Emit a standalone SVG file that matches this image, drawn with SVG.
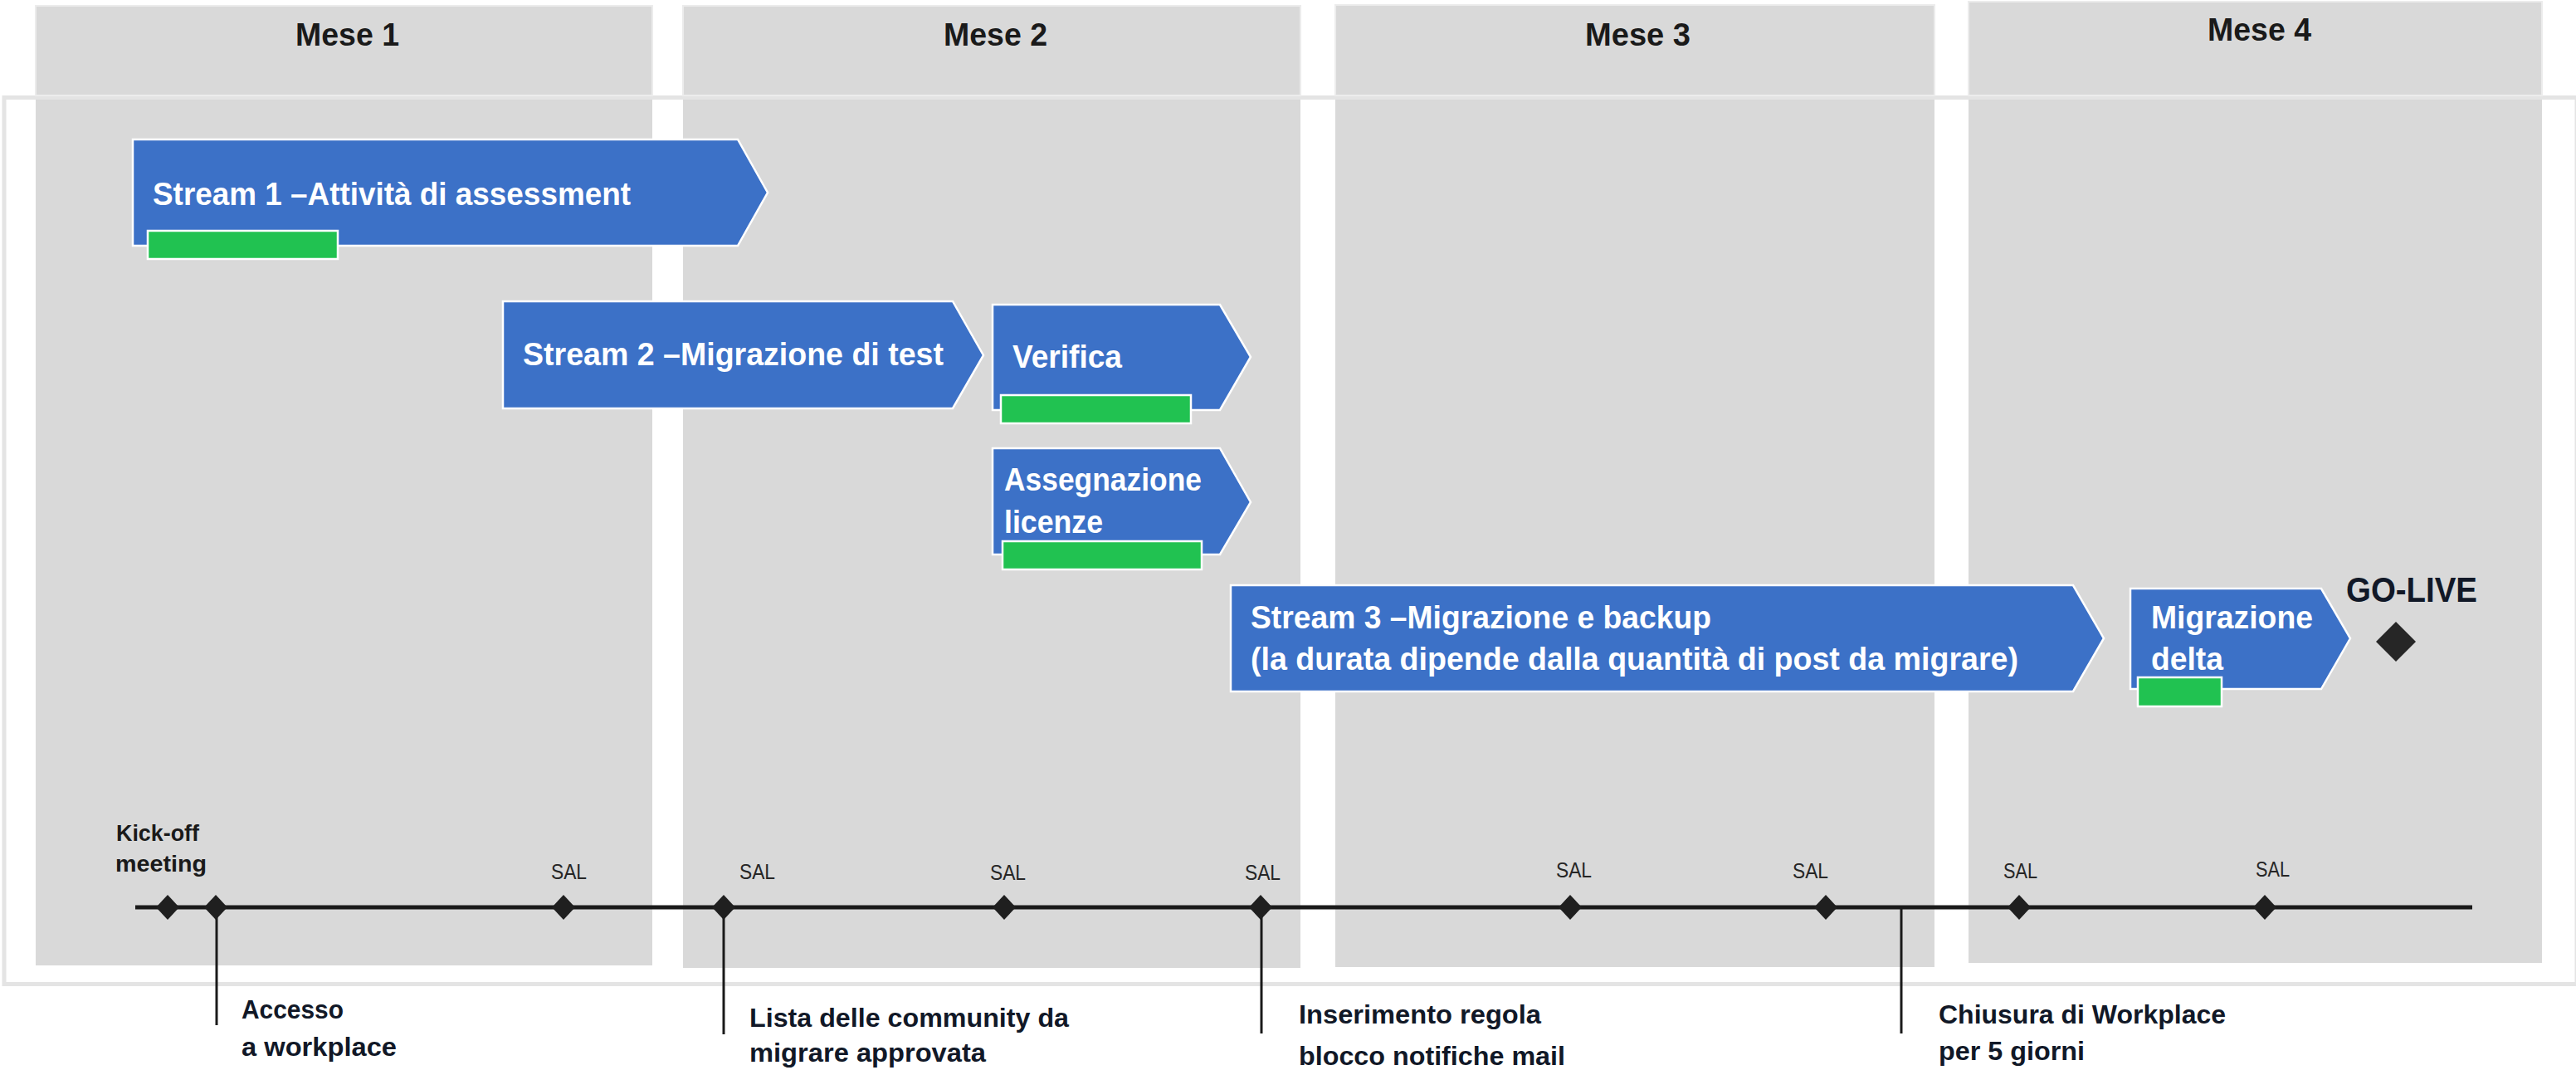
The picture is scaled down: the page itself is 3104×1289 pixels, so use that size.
<svg xmlns="http://www.w3.org/2000/svg" width="3104" height="1289" viewBox="0 0 3104 1289">
<defs>
<style>
.col{fill:#d9d9d9}
.hdr{fill:#d9d9d9;stroke:#ececec;stroke-width:2}
.month{font-family:"Liberation Sans",Arial,sans-serif;font-weight:bold;font-size:39px;fill:#1a1a1a}
.task{fill:#3c71c7;stroke:#ffffff;stroke-width:2.5}
.bar{fill:#21c251;stroke:#ffffff;stroke-width:2.5}
.tl{font-family:"Liberation Sans",Arial,sans-serif;font-weight:bold;font-size:39px;fill:#ffffff}
.ms{fill:#1f1f1f}
.sal{font-family:"Liberation Sans",Arial,sans-serif;font-size:25px;fill:#262626}
.ko{font-family:"Liberation Sans",Arial,sans-serif;font-weight:bold;font-size:27px;fill:#1a1a1a}
.lbl{font-family:"Liberation Sans",Arial,sans-serif;font-weight:bold;font-size:31px;fill:#111827}
.golive{font-family:"Liberation Sans",Arial,sans-serif;font-weight:bold;font-size:42px;fill:#111827}
.line{stroke:#1a1a1a;stroke-width:5;fill:none}
.drop{stroke:#1a1a1a;stroke-width:3;fill:none}
</style>
</defs>
<rect x="0" y="0" width="3104" height="1289" fill="#ffffff"/>
<rect x="5" y="117.5" width="3100" height="1068" fill="#ffffff" stroke="#e4e4e4" stroke-width="5"/>

<g id="month1">
<rect class="hdr" x="43" y="7" width="743" height="108"/>
<rect class="col" x="43" y="120" width="743" height="1043"/>
<text class="month" x="356" y="55" textLength="125" lengthAdjust="spacingAndGlyphs">Mese 1</text>
</g>
<g id="month2">
<rect class="hdr" x="823" y="7" width="744" height="108"/>
<rect class="col" x="823" y="120" width="744" height="1046"/>
<text class="month" x="1137" y="55" textLength="125" lengthAdjust="spacingAndGlyphs">Mese 2</text>
</g>
<g id="month3">
<rect class="hdr" x="1609" y="6" width="722" height="109"/>
<rect class="col" x="1609" y="120" width="722" height="1045"/>
<text class="month" x="1910" y="55" textLength="127" lengthAdjust="spacingAndGlyphs">Mese 3</text>
</g>
<g id="month4">
<rect class="hdr" x="2372" y="2" width="691" height="113"/>
<rect class="col" x="2372" y="120" width="691" height="1040"/>
<text class="month" x="2660" y="49" textLength="125" lengthAdjust="spacingAndGlyphs">Mese 4</text>
</g>

<g id="stream1">
<path class="task" d="M160,168 H889 L925,232 L889,296 H160 Z"/>
<text class="tl" x="184" y="247" textLength="576" lengthAdjust="spacingAndGlyphs">Stream 1 –Attività di assessment</text>
<rect class="bar" x="178" y="278" width="229" height="34"/>
</g>
<g id="stream2">
<path class="task" d="M606,363 H1148 L1185,428 L1148,492 H606 Z"/>
<text class="tl" x="630" y="440" textLength="507" lengthAdjust="spacingAndGlyphs">Stream 2 –Migrazione di test</text>
</g>
<g id="verifica">
<path class="task" d="M1196,367 H1470 L1507,430 L1470,494 H1196 Z"/>
<text class="tl" x="1220" y="443" textLength="132" lengthAdjust="spacingAndGlyphs">Verifica</text>
<rect class="bar" x="1206" y="476" width="229" height="34"/>
</g>
<g id="assegnazione">
<path class="task" d="M1196,540 H1470 L1507,605 L1470,668 H1196 Z"/>
<text class="tl" x="1210" y="591" textLength="238" lengthAdjust="spacingAndGlyphs">Assegnazione</text>
<text class="tl" x="1210" y="642" textLength="119" lengthAdjust="spacingAndGlyphs">licenze</text>
<rect class="bar" x="1208" y="652" width="240" height="34"/>
</g>
<g id="stream3">
<path class="task" d="M1483,705 H2498 L2535,769 L2498,833 H1483 Z"/>
<text class="tl" x="1507" y="757" textLength="555" lengthAdjust="spacingAndGlyphs">Stream 3 –Migrazione e backup</text>
<text class="tl" x="1507" y="807" textLength="925" lengthAdjust="spacingAndGlyphs">(la durata dipende dalla quantità di post da migrare)</text>
</g>
<g id="migrazione-delta">
<path class="task" d="M2567,709 H2797 L2832,769 L2797,830 H2567 Z"/>
<text class="tl" x="2592" y="757" textLength="195" lengthAdjust="spacingAndGlyphs">Migrazione</text>
<text class="tl" x="2592" y="807" textLength="87" lengthAdjust="spacingAndGlyphs">delta</text>
<rect class="bar" x="2576" y="816" width="101" height="35"/>
</g>
<g id="go-live">
<text class="golive" x="2827" y="725" textLength="158" lengthAdjust="spacingAndGlyphs">GO-LIVE</text>
<path fill="#262626" d="M2887,749 L2911,773 L2887,797 L2863,773 Z"/>
</g>

<g id="connectors">
<line class="line" x1="163" y1="1093" x2="2979" y2="1093"/>
<line class="drop" x1="261" y1="1093" x2="261" y2="1235"/>
<line class="drop" x1="872" y1="1093" x2="872" y2="1246"/>
<line class="drop" x1="1520" y1="1093" x2="1520" y2="1245"/>
<line class="drop" x1="2291" y1="1095" x2="2291" y2="1245"/>
</g>

<g id="ms-kickoff">
<path class="ms" d="M202,1078 L216,1093 L202,1108 L188,1093 Z"/>
<text class="ko" x="140" y="1013" textLength="100" lengthAdjust="spacingAndGlyphs">Kick-off</text>
<text class="ko" x="139" y="1050" textLength="110" lengthAdjust="spacingAndGlyphs">meeting</text>
</g>
<g id="ms-accesso">
<path class="ms" d="M260,1078 L274,1093 L260,1108 L246,1093 Z"/>
<text class="lbl" x="291" y="1227" textLength="123" lengthAdjust="spacingAndGlyphs">Accesso</text>
<text class="lbl" x="291" y="1272" textLength="187" lengthAdjust="spacingAndGlyphs">a workplace</text>
</g>
<g id="ms-sal1">
<path class="ms" d="M679,1078 L693,1093 L679,1108 L665,1093 Z"/>
<text class="sal" x="664" y="1059" textLength="43" lengthAdjust="spacingAndGlyphs">SAL</text>
</g>
<g id="ms-sal2">
<path class="ms" d="M872,1078 L886,1093 L872,1108 L858,1093 Z"/>
<text class="sal" x="891" y="1059" textLength="43" lengthAdjust="spacingAndGlyphs">SAL</text>
<text class="lbl" x="903" y="1237" textLength="385" lengthAdjust="spacingAndGlyphs">Lista delle community da</text>
<text class="lbl" x="903" y="1279" textLength="285" lengthAdjust="spacingAndGlyphs">migrare approvata</text>
</g>
<g id="ms-sal3">
<path class="ms" d="M1210,1078 L1224,1093 L1210,1108 L1196,1093 Z"/>
<text class="sal" x="1193" y="1060" textLength="43" lengthAdjust="spacingAndGlyphs">SAL</text>
</g>
<g id="ms-sal4">
<path class="ms" d="M1519,1078 L1533,1093 L1519,1108 L1505,1093 Z"/>
<text class="sal" x="1500" y="1060" textLength="43" lengthAdjust="spacingAndGlyphs">SAL</text>
<text class="lbl" x="1565" y="1233" textLength="292" lengthAdjust="spacingAndGlyphs">Inserimento regola</text>
<text class="lbl" x="1565" y="1283" textLength="321" lengthAdjust="spacingAndGlyphs">blocco notifiche mail</text>
</g>
<g id="ms-sal5">
<path class="ms" d="M1892,1078 L1906,1093 L1892,1108 L1878,1093 Z"/>
<text class="sal" x="1875" y="1057" textLength="43" lengthAdjust="spacingAndGlyphs">SAL</text>
</g>
<g id="ms-sal6">
<path class="ms" d="M2200,1078 L2214,1093 L2200,1108 L2186,1093 Z"/>
<text class="sal" x="2160" y="1058" textLength="43" lengthAdjust="spacingAndGlyphs">SAL</text>
</g>
<g id="ms-chiusura">
<text class="lbl" x="2336" y="1233" textLength="346" lengthAdjust="spacingAndGlyphs">Chiusura di Workplace</text>
<text class="lbl" x="2336" y="1277" textLength="176" lengthAdjust="spacingAndGlyphs">per 5 giorni</text>
</g>
<g id="ms-sal7">
<path class="ms" d="M2433,1078 L2447,1093 L2433,1108 L2419,1093 Z"/>
<text class="sal" x="2414" y="1058" textLength="41" lengthAdjust="spacingAndGlyphs">SAL</text>
</g>
<g id="ms-sal8">
<path class="ms" d="M2729,1078 L2743,1093 L2729,1108 L2715,1093 Z"/>
<text class="sal" x="2718" y="1056" textLength="41" lengthAdjust="spacingAndGlyphs">SAL</text>
</g>
</svg>
